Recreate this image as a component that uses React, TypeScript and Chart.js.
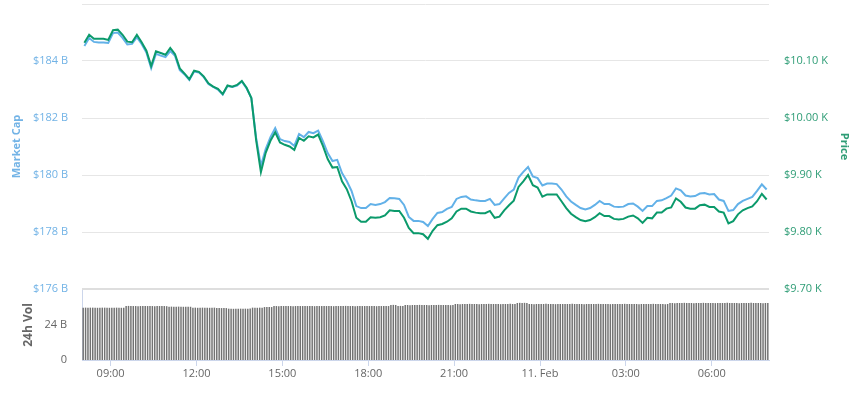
import React, { useEffect, useRef } from 'react';
import { Chart, registerables } from 'chart.js';

Chart.register(...registerables);

// ---------- data ----------
// time axis: minutes since 08:00 (10 Feb); 1440 = 08:00 (11 Feb)
const axisMin = 0;
const axisMax = 1440;
const lineStartMinute = 5;
const lineStepMinutes = 10;
const barStartMinute = 2.5;
const barStepMinutes = 5;

const xTickValues = [60, 240, 420, 600, 780, 960, 1140, 1320];
const xTickLabels = ['09:00', '12:00', '15:00', '18:00', '21:00', '11. Feb', '03:00', '06:00'];

// Price in USD (right axis)
const price = [
  10132, 10146, 10139, 10139, 10139, 10137, 10154, 10155, 10146, 10134, 10133, 10146,
  10133, 10118, 10091, 10117, 10114, 10111, 10123, 10112, 10087, 10078, 10068, 10083,
  10081, 10073, 10061, 10055, 10051, 10042, 10057, 10055, 10058, 10065, 10053, 10035,
  9961, 9905, 9939, 9960, 9975, 9957, 9953, 9950, 9944, 9965, 9960, 9968,
  9966, 9971, 9951, 9928, 9913, 9914, 9889, 9875, 9854, 9825, 9818, 9818,
  9826, 9825, 9826, 9829, 9838, 9837, 9837, 9825, 9807, 9798, 9798, 9796,
  9788, 9802, 9812, 9814, 9818, 9824, 9836, 9841, 9841, 9836, 9834, 9833,
  9833, 9837, 9825, 9827, 9838, 9847, 9855, 9879, 9889, 9900, 9882, 9878,
  9862, 9866, 9866, 9866, 9854, 9842, 9832, 9826, 9821, 9819, 9821, 9826,
  9833, 9828, 9828, 9823, 9822, 9823, 9827, 9829, 9824, 9816, 9825, 9824,
  9834, 9834, 9841, 9843, 9859, 9853, 9843, 9841, 9841, 9847, 9848, 9844,
  9844, 9836, 9834, 9815, 9819, 9831, 9838, 9842, 9845, 9854, 9867, 9857,
];

// Market cap in billions USD (left axis)
const marketCap = [
  184.53, 184.81, 184.67, 184.65, 184.65, 184.63, 184.98, 185.0, 184.81, 184.58, 184.6, 184.84,
  184.6, 184.3, 183.75, 184.25, 184.19, 184.14, 184.35, 184.18, 183.68, 183.53, 183.33, 183.63,
  183.6, 183.44, 183.19, 183.09, 183.0, 182.82, 183.12, 183.09, 183.14, 183.28, 183.04, 182.7,
  181.3, 180.32, 180.91, 181.33, 181.65, 181.26, 181.19, 181.16, 181.02, 181.44, 181.33, 181.51,
  181.47, 181.56, 181.19, 180.77, 180.49, 180.53, 180.07, 179.79, 179.44, 178.91, 178.84, 178.84,
  178.98, 178.95, 178.98, 179.05, 179.19, 179.18, 179.16, 178.95, 178.53, 178.39, 178.39, 178.35,
  178.21, 178.46, 178.67, 178.7, 178.81, 178.88, 179.16, 179.23, 179.25, 179.14, 179.11, 179.09,
  179.09, 179.16, 178.95, 178.98, 179.18, 179.37, 179.49, 179.91, 180.11, 180.28, 179.95, 179.89,
  179.63, 179.7, 179.7, 179.68, 179.49, 179.25, 179.07, 178.95, 178.84, 178.79, 178.84, 178.95,
  179.09, 178.98, 178.98, 178.89, 178.88, 178.89, 178.98, 179.0, 178.89, 178.74, 178.91, 178.91,
  179.09, 179.11, 179.19, 179.28, 179.53, 179.46, 179.28, 179.25, 179.26, 179.35, 179.37, 179.32,
  179.33, 179.14, 179.09, 178.74, 178.77, 178.98, 179.09, 179.16, 179.23, 179.44, 179.67, 179.49,
];

// 24h volume in billions USD, one bar per 5 minutes
const volumes = [
  35.9, 35.9, 35.8, 35.9, 35.9, 35.9, 35.8, 35.9, 35.9, 35.9, 35.9, 35.8, 35.9, 35.9, 35.9, 35.9, 35.8, 35.9,
  37.0, 37.1, 37.0, 37.0, 37.0, 36.9, 37.0, 37.1, 37.0, 37.0, 37.0, 37.0, 36.9, 37.0, 37.0, 37.1, 37.0, 36.9,
  36.6, 36.6, 36.5, 36.6, 36.6, 36.6, 36.5, 36.6, 36.6, 36.5,
  35.9, 35.9, 35.8, 35.9, 35.9, 35.9, 35.9, 35.8, 35.9, 35.9, 35.7, 35.7, 35.6, 35.7, 35.6,
  35.2, 35.2, 35.1, 35.2, 35.2, 35.2, 35.1, 35.2, 35.2, 35.3,
  35.9, 35.9, 35.8, 35.9, 35.9,
  36.3, 36.3, 36.4, 36.3,
  37.0, 37.0, 36.9, 37.0, 37.0, 37.1, 37.0,
  37.0, 36.9, 37.0, 37.0, 37.0, 37.0, 37.1,
  37.0, 37.0, 37.0, 36.9, 37.0, 37.0, 37.0,
  37.1, 37.0, 37.0, 37.0, 36.9, 37.0, 37.0,
  37.0, 37.0, 37.1, 37.0, 37.0, 37.0, 36.9,
  37.0, 37.0, 37.0, 37.0, 37.1, 37.0, 37.0,
  37.0, 36.9, 37.0, 37.0, 37.0, 37.0, 37.0,
  37.7, 37.8, 37.7,
  37.0, 37.1, 37.0,
  37.7, 37.7, 37.6, 37.7, 37.7, 37.7, 37.8,
  37.7, 37.7, 37.7, 37.6, 37.7, 37.7, 37.7,
  37.8, 37.7, 37.7, 37.7, 37.7, 37.6, 37.7,
  38.4, 38.4, 38.3, 38.4, 38.4, 38.4, 38.5,
  38.4, 38.4, 38.4, 38.3, 38.4, 38.4, 38.4,
  38.5, 38.4, 38.4, 38.4, 38.4, 38.3,
  38.4, 38.4, 38.4, 38.5, 38.4, 38.4,
  39.1, 39.2, 39.1, 39.2, 39.1,
  38.4, 38.4, 38.3, 38.4, 38.4, 38.4, 38.4, 38.5, 38.4, 38.4,
  38.4, 38.3, 38.4, 38.4, 38.4, 38.4, 38.4, 38.4, 38.5, 38.4,
  38.4, 38.4, 38.4, 38.3, 38.4, 38.4, 38.4, 38.4, 38.4, 38.5,
  38.4, 38.4, 38.4, 38.4, 38.3, 38.4, 38.4, 38.4, 38.4, 38.4,
  38.5, 38.4, 38.4, 38.4, 38.4, 38.4, 38.3, 38.4, 38.4, 38.4,
  38.4, 38.4, 38.5, 38.4, 38.4, 38.4, 38.4, 38.3, 38.4,
  39.1, 39.1, 39.0, 39.1, 39.1, 39.1, 39.2,
  39.1, 39.1, 39.1, 39.0, 39.1, 39.1, 39.1,
  39.2, 39.1, 39.1, 39.1, 39.1, 39.0, 39.1,
  39.1, 39.1, 39.1, 39.2, 39.1, 39.1, 39.1,
  39.1, 39.0, 39.1, 39.1, 39.1, 39.1, 39.2,
  39.1, 39.1, 39.1, 39.1, 39.0, 39.1, 39.1,
];

// ---------- styles ----------
const FONT = "'Open Sans', 'DejaVu Sans', sans-serif";
const BLUE_LINE = '#62b1e8';
const BLUE_TEXT = '#72b3e6';
const GREEN_LINE = '#0b9a6b';
const GREEN_TEXT = '#2f9d76';
const GRAY_TEXT = '#666666';
const AXIS_LINE = '#ccd6eb';
const GRID = '#e6e6e6';

const fitY = (width: number) => (s: any) => {
  s.width = width;
  s.paddingTop = 0;
  s.paddingBottom = 0;
};

export default function App() {
  const topRef = useRef<HTMLCanvasElement | null>(null);
  const bottomRef = useRef<HTMLCanvasElement | null>(null);

  useEffect(() => {
    if (!topRef.current || !bottomRef.current) return;
    Chart.defaults.font.family = FONT;

    const top = new Chart(topRef.current, {
      type: 'line',
      data: {
        datasets: [
          {
            label: 'Price',
            data: price.map((v, i) => ({ x: lineStartMinute + i * lineStepMinutes, y: v })),
            yAxisID: 'yPrice',
            borderColor: GREEN_LINE,
            borderWidth: 2,
            pointRadius: 0,
            tension: 0,
            fill: false,
          },
          {
            label: 'Market Cap',
            data: marketCap.map((v, i) => ({ x: lineStartMinute + i * lineStepMinutes, y: v })),
            yAxisID: 'yCap',
            borderColor: BLUE_LINE,
            borderWidth: 2,
            pointRadius: 0,
            tension: 0,
            fill: false,
          },
        ],
      },
      options: {
        animation: false,
        responsive: false,
        layout: { padding: { top: 4, bottom: 11, left: 0, right: 0 } },
        plugins: { legend: { display: false }, tooltip: { enabled: false } },
        scales: {
          x: { type: 'linear', min: axisMin, max: axisMax, display: false },
          yCap: {
            position: 'left',
            min: 176,
            max: 186,
            ticks: {
              stepSize: 2,
              padding: 14,
              color: BLUE_TEXT,
              font: { size: 11, family: FONT },
              callback: (v: any) => (v === 186 ? '' : `$${v} B`),
            },
            grid: {
              drawTicks: false,
              color: (ctx: any) => (ctx.tick && ctx.tick.value === 176 ? '#dedede' : GRID),
              lineWidth: (ctx: any) => (ctx.tick && ctx.tick.value === 176 ? 2 : 1),
            },
            border: { display: false },
            title: {
              display: true,
              text: 'Market Cap',
              color: BLUE_TEXT,
              font: { size: 11, weight: 'bold', family: FONT },
              padding: { top: 10, bottom: 0 },
            },
            afterFit: fitY(82),
          },
          yPrice: {
            position: 'right',
            min: 9700,
            max: 10200,
            ticks: {
              stepSize: 100,
              padding: 15,
              color: GREEN_TEXT,
              font: { size: 11, family: FONT },
              callback: (v: any) => (v === 10200 ? '' : `$${(v / 1000).toFixed(2)} K`),
            },
            grid: { display: false, drawTicks: false },
            border: { display: false },
            title: {
              display: true,
              text: 'Price',
              color: GREEN_TEXT,
              font: { size: 11, weight: 'bold', family: FONT },
              padding: { top: 13, bottom: 0 },
            },
            afterFit: fitY(95),
          },
        },
      },
    } as any);

    const bottom = new Chart(bottomRef.current, {
      type: 'bar',
      data: {
        datasets: [
          {
            label: '24h Vol',
            data: volumes.map((v, i) => ({ x: barStartMinute + i * barStepMinutes, y: v })),
            yAxisID: 'yVol',
            backgroundColor: '#727272',
            borderWidth: 0,
            barPercentage: 0.62,
            categoryPercentage: 1,
          },
        ],
      },
      options: {
        animation: false,
        responsive: false,
        layout: { padding: { top: 10, bottom: 0, left: 0, right: 95 } },
        plugins: { legend: { display: false }, tooltip: { enabled: false } },
        scales: {
          x: {
            type: 'linear',
            min: axisMin,
            max: axisMax,
            offset: false,
            afterBuildTicks: (s: any) => {
              s.ticks = xTickValues.map((v) => ({ value: v }));
            },
            ticks: {
              autoSkip: false,
              maxRotation: 0,
              padding: 1,
              color: GRAY_TEXT,
              font: { size: 11, family: FONT },
              callback: (_v: any, i: number) => xTickLabels[i],
            },
            grid: {
              offset: false,
              drawOnChartArea: false,
              drawTicks: true,
              tickLength: 6,
              color: AXIS_LINE,
            },
            border: { display: true, color: AXIS_LINE },
            afterFit: (s: any) => {
              s.height = 35;
              s.paddingLeft = 0;
              s.paddingRight = 0;
            },
          },
          yVol: {
            position: 'left',
            min: 0,
            max: 48,
            ticks: {
              stepSize: 24,
              padding: 15,
              color: GRAY_TEXT,
              font: { size: 11, family: FONT },
              callback: (v: any) => (v === 0 ? '0' : v === 24 ? '24 B' : ''),
            },
            grid: { display: false, drawTicks: false },
            border: { display: true, color: AXIS_LINE },
            title: {
              display: true,
              text: '24h Vol',
              color: GRAY_TEXT,
              font: { size: 12, weight: 'bold', family: FONT },
              padding: { top: 21, bottom: 0 },
            },
            afterFit: fitY(82),
          },
        },
      },
    } as any);

    return () => {
      top.destroy();
      bottom.destroy();
    };
  }, []);

  return (
    <div style={{ position: 'fixed', left: 0, top: 0, width: 864, height: 395, background: '#fff' }}>
      <canvas
        ref={topRef}
        width={864}
        height={300}
        style={{ position: 'absolute', left: 0, top: 0, width: 864, height: 300 }}
      />
      <canvas
        ref={bottomRef}
        width={864}
        height={115}
        style={{ position: 'absolute', left: 0, top: 280, width: 864, height: 115 }}
      />
    </div>
  );
}
